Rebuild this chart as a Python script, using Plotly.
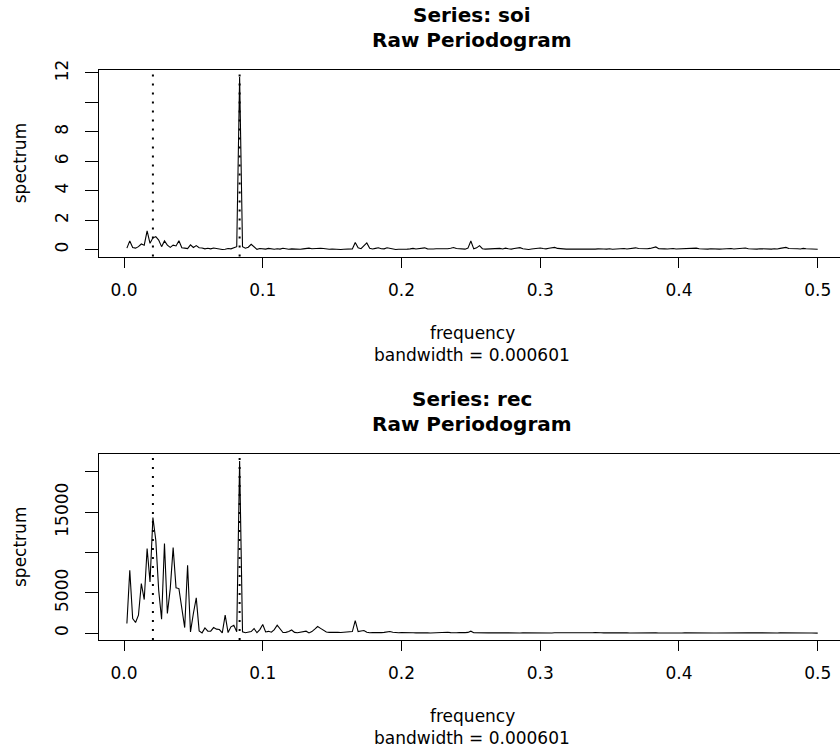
import plotly.graph_objects as go

W, H = 840, 749

# Fourier frequencies k/480 (padded length 480), k = 1..240
n_fft = 480
freq = [k / n_fft for k in range(1, n_fft // 2 + 1)]

soi_spec = [
    0.10, 0.59, 0.14, 0.10, 0.20, 0.38, 0.30, 1.27, 0.43, 0.80,
    0.88, 0.65, 0.20, 0.59, 0.30, 0.15, 0.30, 0.25, 0.60, 0.13,
    0.10, 0.07, 0.32, 0.14, 0.27, 0.13, 0.11, 0.05, 0.09, 0.05,
    0.11, 0.07, 0.02, 0.01, 0.02, 0.07, 0.05, 0.13, 0.20, 11.73,
    0.20, 0.09, 0.16, 0.36, 0.16, 0.02, 0.07, 0.04, 0.03, 0.08,
    0.05, 0.02, 0.06, 0.03, 0.09, 0.04, 0.02, 0.05, 0.03, 0.04,
    0.02, 0.05, 0.08, 0.10, 0.06, 0.08, 0.11, 0.09, 0.07, 0.03,
    0.02, 0.04, 0.02, 0.03, 0.01, 0.02, 0.03, 0.02, 0.05, 0.48,
    0.12, 0.06, 0.25, 0.45, 0.09, 0.04, 0.08, 0.12, 0.06, 0.05,
    0.12, 0.07, 0.03, 0.01, 0.02, 0.04, 0.02, 0.03, 0.05, 0.08,
    0.04, 0.06, 0.09, 0.12, 0.05, 0.03, 0.04, 0.06, 0.05, 0.04,
    0.03, 0.06, 0.09, 0.14, 0.07, 0.04, 0.05, 0.03, 0.10, 0.58,
    0.05, 0.12, 0.27, 0.06, 0.03, 0.05, 0.02, 0.04, 0.06, 0.08,
    0.04, 0.10, 0.06, 0.03, 0.07, 0.11, 0.13, 0.06, 0.03, 0.01,
    0.04, 0.06, 0.09, 0.11, 0.07, 0.05, 0.09, 0.12, 0.15, 0.08,
    0.05, 0.07, 0.03, 0.04, 0.02, 0.03, 0.04, 0.02, 0.05, 0.03,
    0.04, 0.02, 0.03, 0.05, 0.07, 0.04, 0.03, 0.06, 0.02, 0.04,
    0.03, 0.05, 0.07, 0.04, 0.06, 0.09, 0.12, 0.07, 0.05, 0.04,
    0.06, 0.08, 0.12, 0.18, 0.06, 0.03, 0.05, 0.04, 0.06, 0.07,
    0.04, 0.05, 0.03, 0.06, 0.08, 0.05, 0.07, 0.10, 0.06, 0.04,
    0.05, 0.03, 0.06, 0.04, 0.05, 0.03, 0.04, 0.06, 0.05, 0.07,
    0.04, 0.06, 0.09, 0.07, 0.11, 0.06, 0.04, 0.05, 0.03, 0.06,
    0.04, 0.07, 0.05, 0.03, 0.06, 0.04, 0.08, 0.11, 0.15, 0.07,
    0.05, 0.03, 0.06, 0.04, 0.08, 0.06, 0.04, 0.05, 0.03, 0.02,
]

rec_spec = [
    1200, 7800, 1820, 1320, 2230, 6150, 4170, 10490, 6360, 14330,
    11520, 5330, 1735, 11110, 2440, 5530, 10610, 5620, 5530, 3260,
    700, 8430, 165, 2440, 4380, 290, 40, 660, 250, 250,
    700, 500, 450, 40, 2230, 80, 785, 990, 165, 21360,
    165, 60, 90, 200, 580, 60, 450, 1070, 150, 230,
    120, 450, 990, 540, 80, 100, 200, 400, 100, 60,
    100, 150, 250, 30, 200, 500, 830, 600, 410, 150,
    100, 130, 90, 120, 80, 100, 130, 90, 200, 1570,
    200, 280, 330, 120, 50, 80, 60, 90, 70, 100,
    150, 200, 120, 60, 50, 90, 100, 60, 40, 50,
    40, 60, 50, 70, 40, 30, 50, 60, 40, 50,
    60, 120, 70, 40, 60, 90, 50, 70, 100, 250,
    60, 40, 70, 50, 30, 40, 60, 50, 40, 30,
    50, 40, 60, 70, 50, 40, 30, 50, 40, 60,
    50, 40, 30, 40, 50, 60, 40, 30, 50, 40,
    30, 40, 50, 40, 30, 40, 50, 60, 40, 50,
    40, 60, 80, 110, 60, 40, 50, 40, 60, 70,
    90, 110, 60, 40, 30, 40, 50, 40, 30, 40,
    30, 40, 50, 40, 30, 20, 30, 40, 30, 40,
    30, 20, 30, 40, 30, 40, 30, 20, 30, 40,
    30, 40, 30, 20, 30, 40, 50, 40, 30, 40,
    50, 70, 90, 110, 90, 60, 40, 30, 40, 30,
    20, 30, 40, 30, 20, 30, 40, 30, 20, 30,
    40, 30, 20, 30, 40, 30, 20, 30, 20, 10,
]

ref_freqs = [1 / 48, 1 / 12]

x_tickvals = [0.0, 0.1, 0.2, 0.3, 0.4, 0.5]
x_ticktext = ["0.0", "0.1", "0.2", "0.3", "0.4", "0.5"]
soi_tickvals = [0, 2, 4, 6, 8, 10, 12]
soi_ticktext = ["0", "2", "4", "6", "8", "", "12"]
rec_tickvals = [0, 5000, 10000, 15000, 20000]
rec_ticktext = ["0", "5000", "", "15000", ""]

titles = [("Series: soi", "Raw Periodogram"), ("Series: rec", "Raw Periodogram")]
xlab = "frequency"
sublab = "bandwidth = 0.000601"
ylab = "spectrum"

FONT = "DejaVu Sans"

# pixel layout
left_px = 99
panels = [
    dict(top=70, bottom=256.5),
    dict(top=454, bottom=640),
]

fig = go.Figure()
fig.add_trace(go.Scatter(x=freq, y=soi_spec, mode="lines",
                         line=dict(color="black", width=1.1),
                         xaxis="x", yaxis="y", showlegend=False, hoverinfo="skip"))
fig.add_trace(go.Scatter(x=freq, y=rec_spec, mode="lines",
                         line=dict(color="black", width=1.1),
                         xaxis="x2", yaxis="y2", showlegend=False, hoverinfo="skip"))

xrange = [-0.01802, 0.51607]

def xaxis_cfg(anchor):
    return dict(
        domain=[left_px / W, 1], anchor=anchor, range=xrange,
        automargin=False,
        showline=True, mirror=True, linecolor="black", linewidth=1,
        ticks="outside", ticklen=10, tickwidth=1, tickcolor="black",
        tickvals=x_tickvals, ticktext=x_ticktext,
        showgrid=False, zeroline=False,
        tickfont=dict(family=FONT, size=17, color="black"),
        ticklabelstandoff=8,
    )

def yaxis_cfg(anchor, p, rng, tv, tt):
    return dict(
        domain=[1 - p["bottom"] / H, 1 - p["top"] / H], anchor=anchor, range=rng,
        automargin=False,
        showline=True, mirror=False, linecolor="black", linewidth=1,
        ticks="outside", ticklen=13, tickwidth=1, tickcolor="black",
        tickvals=tv, ticktext=tt, tickangle=-90,
        showgrid=False, zeroline=False,
        tickfont=dict(family=FONT, size=17, color="black"),
        ticklabelstandoff=10,
    )

soi_max = max(soi_spec)
rec_max = max(rec_spec)
soi_rng = [-0.04 * soi_max, 1.04 * soi_max]
rec_rng = [min(rec_spec) - 0.04 * (rec_max - min(rec_spec)), rec_max + 0.04 * (rec_max - min(rec_spec))]

fig.update_layout(
    template="none",
    width=W, height=H,
    autosize=False,
    margin=dict(l=0, r=0, t=0, b=0, pad=0),
    paper_bgcolor="white", plot_bgcolor="white",
    xaxis=xaxis_cfg("y"),
    yaxis=yaxis_cfg("x", panels[0], soi_rng, soi_tickvals, soi_ticktext),
    xaxis2=xaxis_cfg("y2"),
    yaxis2=yaxis_cfg("x2", panels[1], rec_rng, rec_tickvals, rec_ticktext),
)

shapes = []
for xa, ya in [("x", "y"), ("x2", "y2")]:
    for f in ref_freqs:
        shapes.append(dict(type="line", xref=xa, yref=ya + " domain",
                           x0=f, x1=f, y0=0, y1=1,
                           line=dict(color="black", width=2, dash="2px,7px")))
fig.update_layout(shapes=shapes)

cx = 472 / W
ann = []
for i, p in enumerate(panels):
    t1, t2 = titles[i]
    ann.append(dict(text="<b>%s</b>" % t1, x=cx, y=1 - (p["top"] - 55) / H, xref="paper", yref="paper",
                    showarrow=False, xanchor="center", yanchor="middle",
                    font=dict(family=FONT, size=20, color="black")))
    ann.append(dict(text="<b>%s</b>" % t2, x=cx, y=1 - (p["top"] - 30) / H, xref="paper", yref="paper",
                    showarrow=False, xanchor="center", yanchor="middle",
                    font=dict(family=FONT, size=20, color="black")))
    ann.append(dict(text=xlab, x=cx, y=1 - (p["bottom"] + 76) / H, xref="paper", yref="paper",
                    showarrow=False, xanchor="center", yanchor="middle",
                    font=dict(family=FONT, size=17, color="black")))
    ann.append(dict(text=sublab, x=cx, y=1 - (p["bottom"] + 98) / H, xref="paper", yref="paper",
                    showarrow=False, xanchor="center", yanchor="middle",
                    font=dict(family=FONT, size=17, color="black")))
    ann.append(dict(text=ylab, x=20 / W, y=1 - (p["top"] + p["bottom"]) / 2 / H, xref="paper", yref="paper",
                    showarrow=False, xanchor="center", yanchor="middle", textangle=-90,
                    font=dict(family=FONT, size=17, color="black")))
fig.update_layout(annotations=ann)

fig.write_html("out.html",
               config={"displayModeBar": False, "responsive": False},
               post_script="document.body.style.margin='0';document.body.style.overflow='hidden';")
